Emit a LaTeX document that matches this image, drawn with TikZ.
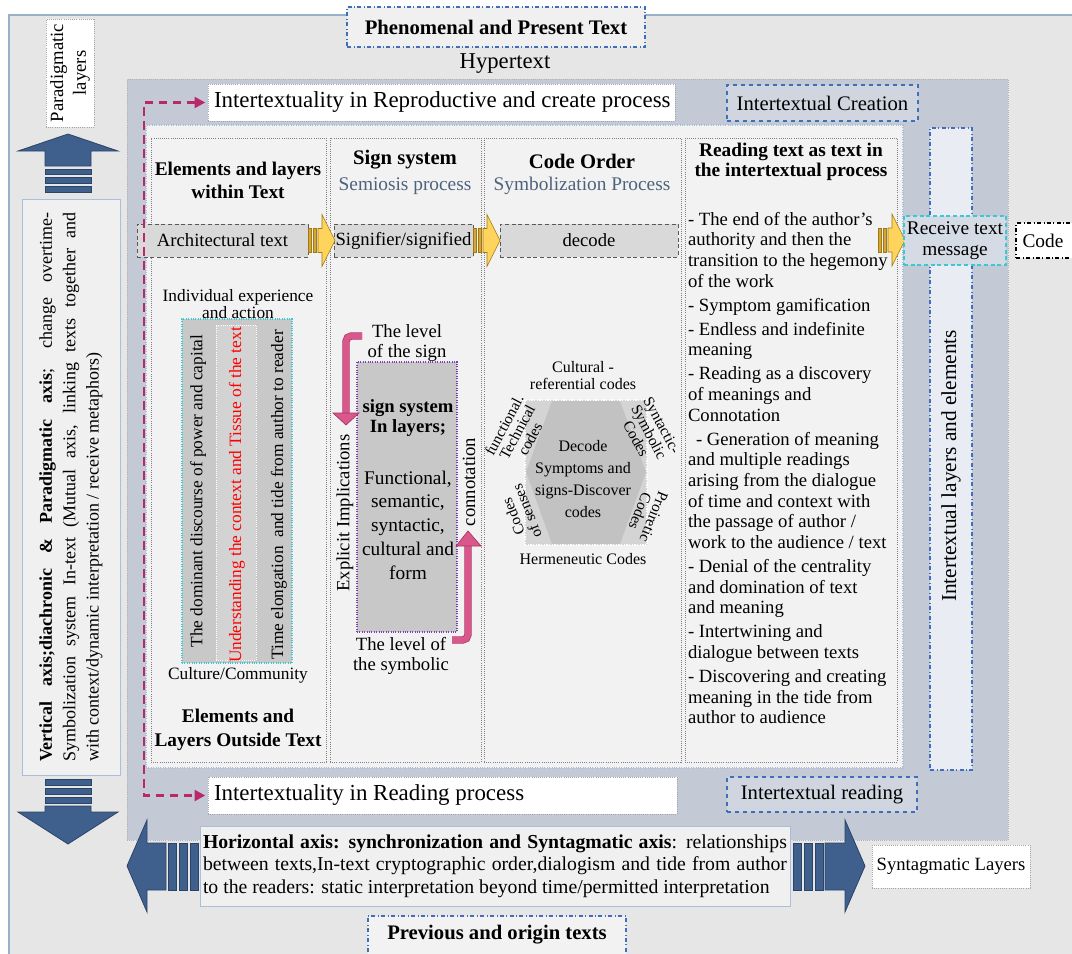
\documentclass[tikz,border=0pt]{standalone}
\usepackage{fontspec}
\setmainfont{Liberation Serif}
\usetikzlibrary{arrows.meta,calc}

\definecolor{bggray}{HTML}{E6E6E6}
\definecolor{outerline}{HTML}{9AAFC8}
\definecolor{regionblue}{HTML}{C4C9D6}
\definecolor{panelfill}{HTML}{F2F2F2}
\definecolor{panelline}{HTML}{A9BED8}
\definecolor{colline}{HTML}{808080}
\definecolor{bandfill}{HTML}{D9D9D9}
\definecolor{arrowblue}{HTML}{3F5F8C}
\definecolor{arrowdark}{HTML}{2C4466}
\definecolor{magentac}{HTML}{B8286A}
\definecolor{pinkc}{HTML}{D9578C}
\definecolor{pinkdark}{HTML}{A8345F}
\definecolor{goldc}{HTML}{FFD45C}
\definecolor{golddark}{HTML}{A07A10}
\definecolor{stripec}{HTML}{D4A53A}
\definecolor{dashblue}{HTML}{3F6FB8}
\definecolor{cyanc}{HTML}{3CC8D0}
\definecolor{purplec}{HTML}{8040B0}
\definecolor{subblue}{HTML}{4D637C}
\definecolor{hexfill}{HTML}{C2C2C2}
\definecolor{hexbg}{HTML}{D4D4D4}
\definecolor{grayrect}{HTML}{C8C8C8}
\definecolor{lightbox}{HTML}{F0F0F0}
\definecolor{creabox}{HTML}{D0D5E0}
\definecolor{layerbox}{HTML}{E9ECF2}
\definecolor{recvbox}{HTML}{D5DBE5}

\newcommand\fs[2]{\fontsize{#1}{#2}\selectfont}
\newcommand\bx[7]{\node[#6, minimum width={(#4-#2)*0.75pt}, minimum height={(#5-#3)*0.75pt}, inner sep=0pt, outer sep=0pt] (#1) at ({(#2+#4)/2},{(#3+#5)/2}) {#7};}
\newcommand\yarrow[1]{%
  \begin{scope}[shift={(#1)}]
    \filldraw[fill=stripec, draw=golddark, line width=0.4pt] (0,-12) rectangle (3,12);
    \filldraw[fill=stripec, draw=golddark, line width=0.4pt] (5,-12) rectangle (8,12);
    \filldraw[fill=goldc, draw=golddark, line width=0.4pt] (10,-12) -- (14,-12) -- (14,-26) -- (27,0) -- (14,26) -- (14,12) -- (10,12) -- cycle;
  \end{scope}}

\tikzset{
  colbox/.style={fill=panelfill, draw=colline, densely dotted, line width=0.6pt},
  band/.style={fill=bandfill, draw=gray!70!black, densely dashed, line width=0.5pt},
  bluearrow/.style={fill=arrowblue, draw=arrowdark, line width=0.6pt},
  pinkshaft/.style={draw=pinkdark, line width=0.5pt, double=pinkc, double distance=4.5pt, rounded corners=4pt},
  pinkhead/.style={fill=pinkc, draw=pinkdark, line width=0.5pt},
  whitebox/.style={fill=white, draw=gray!70, densely dotted, line width=0.6pt},
  conn/.style={magentac, line width=2.2pt, dash pattern=on 6.5pt off 4pt, shorten <=2pt, shorten >=2pt},
}

\begin{document}
\begin{tikzpicture}[x=0.75pt, y=-0.75pt, every node/.style={inner sep=0pt, outer sep=0pt}]
\useasboundingbox (0,0) rectangle (1072,954);
\clip (0,0) rectangle (1072,954);
\fill[white] (0,0) rectangle (1072,954);
\filldraw[fill=bggray, draw=outerline, line width=0.8pt] (9,15) rectangle (1080,962);

% hypertext region
\bx{hyper}{127}{79}{1008}{840}{fill=regionblue, draw=gray!60, densely dotted, line width=0.6pt}{}

% top texts
\bx{phen}{347}{7}{645}{47}{fill=bggray!60!white, draw=dashblue, dash dot, line width=1pt, font={\fs{15.5}{18}\bfseries}}{Phenomenal and Present Text}
\node[font={\fs{17}{20}}] (hyt) at (505,64) {Hypertext};

\bx{repro}{208}{84}{675}{121}{whitebox}{}
\node[anchor=west, font={\fs{17.2}{20}}] (reprot) at ($(repro.west)+(6,0)$) {Intertextuality in Reproductive and create process};
\bx{crea}{727}{85}{918}{121}{fill=creabox, draw=dashblue, dashed, line width=1pt, font={\fs{15.5}{18}}}{Intertextual Creation}

% panel and columns
\bx{panel}{146}{125}{903}{768}{fill=panelfill, draw=panelline, densely dotted, line width=0.8pt}{}
\bx{col1}{151}{138}{326}{762}{colbox}{}
\bx{col2}{330}{138}{481}{762}{colbox}{}
\bx{col3}{484}{138}{681}{762}{colbox}{}
\bx{col4}{685}{138}{897}{762}{colbox}{}

% headings
\node[align=center, font={\fs{14.5}{17.25}\bfseries}] (h1) at (238,180) {Elements and layers\\within Text};
\node[font={\fs{15.5}{18}\bfseries}] (h2a) at (405,160) {Sign system};
\node[text=subblue, font={\fs{14.5}{17}}] (h2b) at (405,186) {Semiosis process};
\node[font={\fs{15.5}{18}\bfseries}] (h3a) at (582,161) {Code Order};
\node[text=subblue, font={\fs{14.5}{17}}] (h3b) at (582,186) {Symbolization Process};
\node[align=center, font={\fs{14.5}{15.5}\bfseries}] (h4) at (791,162) {Reading text as text in\\the intertextual process};

% bands and yellow arrows
\bx{b1}{137}{224}{308}{257}{band, font={\fs{14}{16}}}{Architectural text}
\bx{b2}{334}{224}{473}{257}{band, font={\fs{14}{16}}}{Signifier/signified}
\bx{b3}{500}{224}{678}{257}{band, font={\fs{14}{16}}}{decode}
\yarrow{b1.east}
\yarrow{b2.east}
\coordinate (a4) at (878,240);
\yarrow{a4}

% column 1
\node[align=center, font={\fs{13}{13}}] (ind) at (238,304) {Individual experience\\and action};
\bx{ctxrect}{182}{319}{292}{663}{fill=grayrect, draw=cyanc, densely dotted, line width=0.8pt}{}
\bx{ctxmid}{216}{325}{256}{660}{fill=grayrect!80!white, draw=white, densely dotted, line width=0.6pt}{}
\node[rotate=90, font={\fs{13}{15}}] (t1) at (198,491) {The dominant discourse of power and capital};
\node[rotate=90, text=red, font={\fs{13}{15}}] (t2) at (237,495) {Understanding the context and Tissue of the text};
\node[rotate=90, font={\fs{13}{15}}] (t3) at (279,495) {Time elongation\ \ and tide from author to reader};
\node[font={\fs{13}{15}}] (cult) at (238,675) {Culture/Community};
\node[align=center, font={\fs{14.5}{17.5}\bfseries}] (out) at (238,730) {Elements and\\Layers Outside Text};

% column 2
\node[align=center, font={\fs{14}{15}}] (lvs) at (407,343) {The level\\of the sign};
\bx{signrect}{357}{362}{457}{632}{fill=grayrect, draw=purplec, densely dotted, line width=0.8pt}{}
\node[align=center, font={\fs{14}{15}\bfseries}] (sil) at (408,418) {sign system\\In layers;};
\node[align=center, font={\fs{14.5}{17.8}}] (fun) at (408,525) {Functional,\\semantic,\\syntactic,\\cultural and\\form};
\node[align=center, font={\fs{14}{15}}] (lvy) at (401,656) {The level of\\the symbolic};
\node[rotate=90, font={\fs{14}{16}}] (expl) at (345,513) {Explicit Implications};
\node[rotate=90, font={\fs{14}{16}}] (conn) at (469,482) {connotation};
\draw[pinkshaft] (362,336) -- (346,336) -- (346,414);
\filldraw[pinkhead] (333,413) -- (359,413) -- (346,425) -- cycle;
\draw[pinkshaft] (452,640) -- (468,640) -- (468,545);
\filldraw[pinkhead] (456,546) -- (481,546) -- (468,531) -- cycle;

% column 3 hexagon
\bx{hexb}{525}{400}{647}{545}{fill=hexbg, draw=white, densely dotted, line width=1pt}{}
\fill[hexfill] (552,401) -- (620,401) -- (646,472) -- (620,544) -- (552,544) -- (526,472) -- cycle;
\node[align=center, font={\fs{12}{16.5}}] (dec) at (583,479) {Decode\\Symptoms and\\signs-Discover\\codes};
\node[align=center, font={\fs{12}{12.75}}] (cu) at (583,376) {Cultural -\\referential codes};
\node[align=center, rotate=62, font={\fs{11.5}{11}}] (fu) at (517,432) {functional.\\Technical\\codes};
\node[align=center, rotate=-62, font={\fs{11.5}{11}}] (sy) at (649,432) {Syntactic-\\Symbolic\\Codes};
\node[align=center, rotate=112, font={\fs{11.5}{11}}] (os) at (520,514) {Codes\\of senses};
\node[align=center, rotate=-112, font={\fs{11.5}{11}}] (pr) at (647,514) {Proiretic\\Codes};
\node[font={\fs{12}{14}}] (he) at (583,559) {Hermeneutic Codes};

% column 4 text
\node[anchor=north west, align=left, font={\fs{14}{15.5}}] (c4t) at (688,212) {%
- The end of the author's\\
authority and then the\\
transition to the hegemony\\
of the work\\[2.5pt]
- Symptom gamification\\[2.5pt]
- Endless and indefinite\\
meaning\\[2.5pt]
- Reading as a discovery\\
of meanings and\\
Connotation\\[2.5pt]
\hspace*{6pt}- Generation of meaning\\
and multiple readings\\
arising from the dialogue\\
of time and context with\\
the passage of author /\\
work to the audience / text\\[2.5pt]
- Denial of the centrality\\
and domination of text\\
and meaning\\[2.5pt]
- Intertwining and\\
dialogue between texts\\[2.5pt]
- Discovering and creating\\
meaning in the tide from\\
author to audience};

% right side
\bx{layers}{930}{128}{972}{770}{fill=layerbox, draw=dashblue, dash dot, line width=1pt}{}
\node[rotate=90, font={\fs{16}{18}}] (layt) at (951,466) {Intertextual layers and elements};
\bx{recv}{904}{216}{1006}{265}{fill=recvbox, draw=cyanc, densely dashed, line width=1pt, align=center, font={\fs{14.5}{15.5}}}{Receive text\\message}
\bx{code}{1016}{223}{1080}{258}{fill=white, draw=black, dash dot, line width=1pt}{}
\node[font={\fs{14.5}{16}}] (codet) at (1043,241) {Code};

% bottom boxes in region
\bx{reading}{208}{777}{677}{814}{whitebox}{}
\node[anchor=west, font={\fs{17.2}{20}}] (readt) at ($(reading.west)+(6,0)$) {Intertextuality in Reading process};
\bx{iread}{727}{777}{917}{812}{fill=creabox, draw=dashblue, dashed, line width=1pt, font={\fs{15.5}{18}}}{Intertextual reading}

% magenta connector
\coordinate (dl) at (144,450);
\draw[conn, {Triangle[length=8pt,width=8pt]}-{Triangle[length=8pt,width=8pt]}] (repro.west) -| (dl) |- (reading.west);

% left side
\bx{para}{46}{19}{94}{127}{whitebox}{}
\node[rotate=90, align=center, font={\fs{14}{17}}] (parat) at (para.center) {Paradigmatic\\layers};
\draw[bluearrow] (45,166) -- (45,151) -- (18,151) -- (68,134) -- (118,151) -- (91,151) -- (91,166) -- cycle;
\draw[bluearrow] (45,169) rectangle (91,174);
\draw[bluearrow] (45,177) rectangle (91,183);
\draw[bluearrow] (45,186) rectangle (91,192);

\bx{vaxis}{22}{199}{120}{775}{fill=lightbox, draw=panelline, line width=0.6pt}{}
\node[rotate=90, align=left, font={\fs{13.5}{17.5}}] (vaxt) at (vaxis.center) {%
\makebox[412pt][s]{\textbf{Vertical axis;diachronic \& Paradigmatic axis}; change overtime-}\\
\makebox[412pt][s]{Symbolization system In-text (Mutual axis, linking texts together and}\\
\makebox[412pt][l]{with context/dynamic interpretation / receive metaphors)}};

\draw[bluearrow] (45,779) rectangle (91,785);
\draw[bluearrow] (45,788) rectangle (91,794);
\draw[bluearrow] (45,797) rectangle (91,803);
\draw[bluearrow] (45,806) -- (91,806) -- (91,812) -- (118,812) -- (68,844) -- (18,812) -- (45,812) -- cycle;

% horizontal axis
\bx{haxis}{200}{826}{790}{906}{fill=lightbox, draw=panelline, line width=0.6pt}{}
\node[align=left, font={\fs{14.8}{17}}] (haxt) at (haxis.center) {%
\makebox[438pt][s]{\textbf{Horizontal axis: synchronization and Syntagmatic axis}: relationships}\\
\makebox[438pt][s]{between texts,In-text cryptographic order,dialogism and tide from author}\\
\makebox[438pt][l]{to the readers: static interpretation beyond time/permitted interpretation}};
\draw[bluearrow] (166,843) -- (147,843) -- (147,820) -- (127,866) -- (147,912) -- (147,890) -- (166,890) -- cycle;
\draw[bluearrow] (168,843) rectangle (176,890);
\draw[bluearrow] (179,843) rectangle (187,890);
\draw[bluearrow] (190,843) rectangle (198,890);
\draw[bluearrow] (793,843) rectangle (801,890);
\draw[bluearrow] (804,843) rectangle (812,890);
\draw[bluearrow] (815,843) rectangle (823,890);
\draw[bluearrow] (825,843) -- (845,843) -- (845,820) -- (865,866) -- (845,912) -- (845,890) -- (825,890) -- cycle;
\bx{synt}{872}{845}{1030}{888}{whitebox, font={\fs{14}{16}}}{Syntagmatic Layers}
\bx{prev}{368}{916}{626}{960}{fill=bggray!50!white, draw=dashblue, dash dot, line width=1pt}{}
\node[font={\fs{15.5}{18}\bfseries}] (prevt) at (497,935) {Previous and origin texts};
\end{tikzpicture}
\end{document}
